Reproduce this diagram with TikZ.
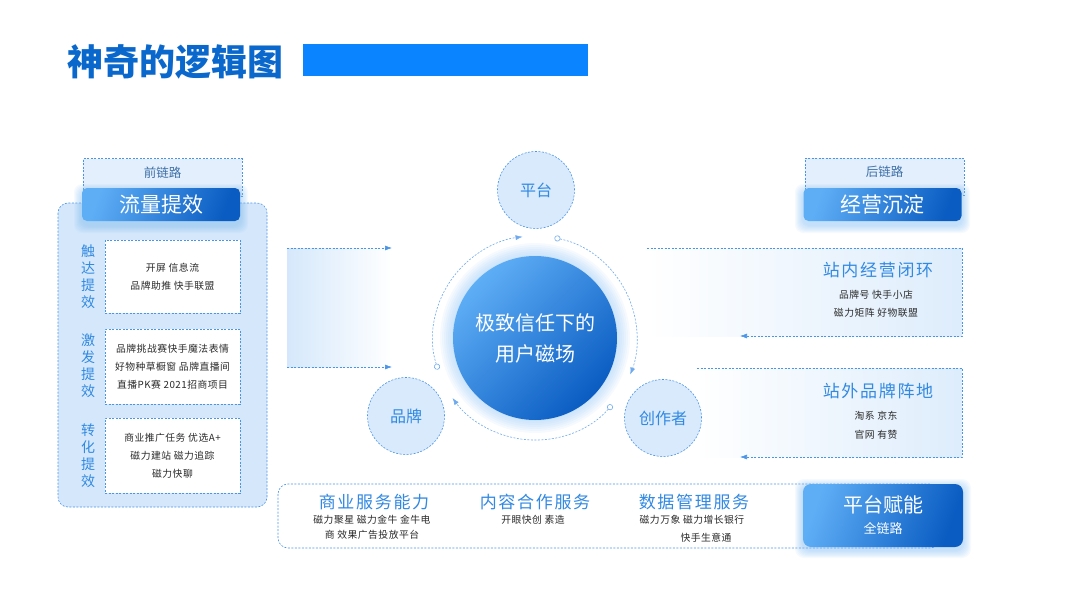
\documentclass[tikz,border=0pt]{standalone}
\usepackage{fontspec}
\setmainfont{Noto Sans CJK SC}
\newfontfamily\spaced[LetterSpace=10]{Noto Sans CJK SC}
\newfontfamily\bodyfont[LetterSpace=5]{Noto Sans CJK SC}
\usetikzlibrary{arrows.meta,positioning,calc}

\definecolor{panelblue}{HTML}{D5E8FB}
\definecolor{tabfill}{HTML}{E3EFFC}
\definecolor{dashblue}{HTML}{4A95E8}
\definecolor{boxlight}{HTML}{5EAEF6}
\definecolor{boxdark}{HTML}{0A5CC2}
\definecolor{glowblue}{HTML}{7DBAF3}
\definecolor{satfill}{HTML}{D8EAFC}
\definecolor{textblue}{HTML}{3189E2}
\definecolor{bodytext}{HTML}{2A2A2A}
\definecolor{barblue}{HTML}{0A84FF}
\definecolor{titleblue}{HTML}{0A68CC}
\definecolor{tabtext}{HTML}{3D6FA8}

\begin{document}
\begin{tikzpicture}[x=1pt,y=1pt,
	dashline/.style={draw=dashblue, line width=0.6pt, dash pattern=on 2pt off 1.5pt},
	tabbox/.style={dashline, fill=tabfill, minimum width=159pt, minimum height=38pt, inner sep=0pt},
	bluebox/.style={rounded corners=5pt, minimum width=158pt, minimum height=33pt, inner sep=0pt,
		top color=boxlight, bottom color=boxdark, shading angle=70, text=white,
		font=\fontsize{21}{24}\selectfont},
	itembox/.style={dashline, fill=white, minimum width=135pt, inner sep=0pt, align=center,
		text=bodytext, font=\fontsize{9.8}{18}\bodyfont},
	sidelabel/.style={text=textblue, align=center, inner sep=0pt, font=\fontsize{14}{17}\selectfont},
	sat/.style={circle, dashline, fill=satfill, minimum size=77pt, inner sep=0pt,
		text=textblue, font=\fontsize{16}{18}\selectfont},
	ringline/.style={draw=dashblue!80, line width=0.6pt, dash pattern=on 2pt off 1.5pt},
	headline/.style={text=textblue, inner sep=0pt, font=\fontsize{17}{20}\spaced},
	smalltext/.style={text=bodytext, align=center, inner sep=0pt, font=\fontsize{9.8}{18}\bodyfont},
	glow/.style={glowblue, opacity=0.07},
	>={Latex[length=7pt,width=5pt]}
]
	\useasboundingbox (0,0) rectangle (1080,-608);
%	\draw (0,0) rectangle (1080,-608);

	% title
	\node[anchor=west, inner sep=0pt, text=titleblue, font=\fontsize{36}{40}\selectfont\bfseries] (title) at (67,-62) {神奇的逻辑图};
	\fill[barblue] (303,-44) rectangle (588,-76);

	% left column
	\draw[dashline, fill=panelblue, rounded corners=10pt] (58,-203) rectangle (267,-507);
	\node[tabbox] (pretab) at (162.5,-177.5) {};
	\node[text=tabtext, font=\fontsize{12.5}{14}\selectfont] (pretabtext) at (162.5,-173) {前链路};
	\foreach \g in {1,...,8}
		\fill[glow, rounded corners=8pt] ({82-\g}, {-192+\g}) rectangle ({240+\g}, {-225-\g});
	\node[bluebox] (flow) at (161,-204.5) {流量提效};

	\node[sidelabel] (reachlbl) at (88,-277) {触\\达\\提\\效};
	\node[sidelabel] (sparklbl) at (88,-366) {激\\发\\提\\效};
	\node[sidelabel] (convlbl) at (88,-456) {转\\化\\提\\效};

	\node[itembox, minimum height=73pt] (reach) at (172.5,-276.5) {开屏 信息流\\品牌助推 快手联盟};
	\node[itembox, minimum height=75pt] (spark) at (172.5,-366.5) {品牌挑战赛快手魔法表情\\好物种草橱窗 品牌直播间\\直播PK赛 2021招商项目};
	\node[itembox, minimum height=75pt] (conv) at (172.5,-455.5) {商业推广任务 优选A+\\磁力建站 磁力追踪\\磁力快聊};

	% band into the centre
	\shade[left color=panelblue, right color=white] (287,-248) rectangle (392,-367);
	\coordinate (bandA) at (287,-248);
	\coordinate (bandAend) at (392,-248);
	\coordinate (bandB) at (287,-367);
	\coordinate (bandBend) at (392,-367);
	\draw[dashline, ->] (bandA) -- (bandAend);
	\draw[dashline, ->] (bandB) -- (bandBend);

	% right column
	\node[tabbox, minimum height=37pt] (posttab) at (884.5,-176.5) {};
	\node[text=tabtext, font=\fontsize{12.5}{14}\selectfont] (posttabtext) at (884.5,-172) {后链路};
	\foreach \g in {1,...,8}
		\fill[glow, rounded corners=8pt] ({803-\g}, {-192+\g}) rectangle ({962+\g}, {-225-\g});
	\node[bluebox] (operate) at (882.5,-204.5) {经营沉淀};

	\shade[left color=white, right color=panelblue!80] (647,-248) rectangle (962,-336);
	\coordinate (inA) at (647,-248);
	\coordinate (inAcorner) at (962,-248);
	\coordinate (inAlow) at (962,-336);
	\coordinate (inAend) at (740,-336);
	\draw[dashline, ->] (inA) -- (inAcorner) -- (inAlow) -- (inAend);
	\node[headline] (inside) at (878,-270) {站内经营闭环};
	\node[smalltext] (insideitems) at (876,-304) {品牌号 快手小店\\磁力矩阵 好物联盟};

	\shade[left color=white, right color=panelblue!80] (697,-368) rectangle (962,-457);
	\coordinate (outA) at (697,-368);
	\coordinate (outAcorner) at (962,-368);
	\coordinate (outAlow) at (962,-457);
	\coordinate (outAend) at (740,-457);
	\draw[dashline, ->] (outA) -- (outAcorner) -- (outAlow) -- (outAend);
	\node[headline] (outside) at (878,-391) {站外品牌阵地};
	\node[smalltext, font=\fontsize{9.8}{19}\bodyfont] (outsideitems) at (876,-425.5) {淘系 京东\\官网 有赞};

	% centre
	\foreach \r in {83,85,...,95}
		\fill[glow] (535,-338) circle[radius=\r];
	\node[circle, minimum size=164pt, inner sep=0pt, top color=boxlight, bottom color=boxdark, shading angle=45,
		text=white, align=center, font=\fontsize{20}{31}\selectfont] (core) at (535,-338) {极致信任下的\\用户磁场};

	\draw[ringline, {Circle[length=6pt,fill=white]}->] ($(core.center)+(198:102)$) arc[start angle=198, end angle=97, radius=102];
	\draw[ringline, {Circle[length=6pt,fill=white]}->] ($(core.center)+(79:102)$) arc[start angle=79, end angle=-21, radius=102];
	\draw[ringline, {Circle[length=6pt,fill=white]}->] ($(core.center)+(-41:102)$) arc[start angle=-41, end angle=-144, radius=102];

	\node[sat] (platform) at (536,-190) {平台};
	\node[sat] (brand) at (406,-416) {品牌};
	\node[sat] (creator) at (663,-418) {创作者};

	% bottom row
	\draw[dashline, fill=white, rounded corners=10pt] (278,-484) rectangle (940,-548);
	\foreach \g in {1,...,8}
		\fill[glow, rounded corners=9pt] ({803-\g}, {-487+\g}) rectangle ({963+\g}, {-550-\g});
	\node[bluebox, minimum width=160pt, minimum height=63pt, rounded corners=8pt, align=center,
		font=\fontsize{20}{22}\selectfont] (enable) at (883,-515.5) {平台赋能\\[-1pt]{\fontsize{13}{15}\selectfont 全链路}};

	\node[headline] (biz) at (374,-502) {商业服务能力};
	\node[smalltext, font=\fontsize{9.8}{15}\bodyfont] (bizitems) at (372,-527.5) {磁力聚星 磁力金牛 金牛电\\商 效果广告投放平台};
	\node[headline] (content) at (535,-502) {内容合作服务};
	\node[smalltext, font=\fontsize{9.8}{15}\bodyfont] (contentitems) at (533,-520) {开眼快创 素造};
	\node[headline] (data) at (694,-502) {数据管理服务};
	\node[smalltext, font=\fontsize{9.8}{15}\bodyfont] (dataitems) at (692,-520) {磁力万象 磁力增长银行};
	\node[smalltext, font=\fontsize{9.8}{15}\bodyfont] (dataitems2) at (706,-538) {快手生意通};
\end{tikzpicture}
\end{document}
